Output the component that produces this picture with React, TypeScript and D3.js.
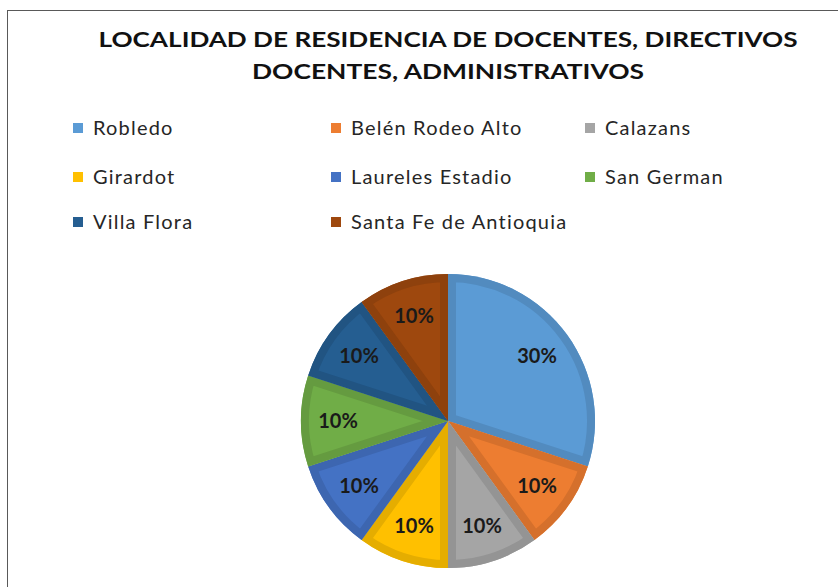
import React from "react";
import * as d3 from "d3";

const categories = [
  "Robledo",
  "Belén Rodeo Alto",
  "Calazans",
  "Girardot",
  "Laureles Estadio",
  "San German",
  "Villa Flora",
  "Santa Fe de Antioquia",
];
const values = [30, 10, 10, 10, 10, 10, 10, 10];
const colors = [
  "#5B9BD5",
  "#ED7D31",
  "#A5A5A5",
  "#FFC000",
  "#4472C4",
  "#70AD47",
  "#255E91",
  "#9E480E",
];
const titleLines = [
  "LOCALIDAD DE RESIDENCIA DE DOCENTES, DIRECTIVOS",
  "DOCENTES, ADMINISTRATIVOS",
];

const W = 838;
const H = 587;

export default function App() {
  const cx = 448;
  const cy = 421;
  const R = 147;
  const total = d3.sum(values);
  const pie = d3
    .pie<number>()
    .sort(null)
    .value((d) => d);
  const arcs = pie(values);
  const arc = d3.arc<d3.PieArcDatum<number>>().innerRadius(0).outerRadius(R);
  const labelArc = d3
    .arc<d3.PieArcDatum<number>>()
    .innerRadius(110)
    .outerRadius(110);

  const colX = [73, 331, 585];
  const rowY = [128, 177, 222];

  return (
    <svg
      width={W}
      height={H}
      style={{ position: "absolute", left: 0, top: 0, background: "#fff" }}
    >
      <defs>
        {arcs.map((a, i) => (
          <clipPath id={`clip${i}`} key={i}>
            <path d={arc(a) || ""} />
          </clipPath>
        ))}
      </defs>
      <rect x={7.5} y={10.5} width={W} height={H} fill="#fff" stroke="#595959" strokeWidth={1} />
      {titleLines.map((t, i) => (
        <text
          key={i}
          x={448}
          y={47 + i * 32}
          textAnchor="middle"
          fontFamily="Lato, sans-serif"
          fontWeight="bold"
          fontSize={21}
          fill="#111"
          textLength={i === 0 ? 699 : 392}
          lengthAdjust="spacingAndGlyphs"
        >
          {t}
        </text>
      ))}
      {categories.map((c, i) => {
        const col = i % 3;
        const row = Math.floor(i / 3);
        return (
          <g key={c} transform={`translate(${colX[col]},${rowY[row]})`}>
            <rect x={0} y={-5} width={10} height={10} fill={colors[i]} />
            <text
              x={20}
              y={6.5}
              fontFamily="Lato, sans-serif"
              fontSize={20}
              letterSpacing={1.2}
              fill="#262626"
            >
              {c}
            </text>
          </g>
        );
      })}
      <g transform={`translate(${cx},${cy})`}>
        {arcs.map((a, i) => {
          const dark = d3.color(colors[i])!.darker(0.3).formatHex();
          return (
            <g key={i}>
              <path d={arc(a) || ""} fill={colors[i]} />
              <path
                d={arc(a) || ""}
                fill="none"
                stroke={dark}
                strokeWidth={16}
                strokeLinejoin="miter"
                clipPath={`url(#clip${i})`}
              />
            </g>
          );
        })}
        {arcs.map((a, i) => {
          const [x, y] = labelArc.centroid(a);
          const pct = Math.round((a.data / total) * 100) + "%";
          return (
            <text
              key={i}
              x={x}
              y={y}
              dy="0.35em"
              textAnchor="middle"
              fontFamily="Lato, sans-serif"
              fontWeight="bold"
              fontSize={20}
              fill="#1a1a1a"
            >
              {pct}
            </text>
          );
        })}
      </g>
    </svg>
  );
}
